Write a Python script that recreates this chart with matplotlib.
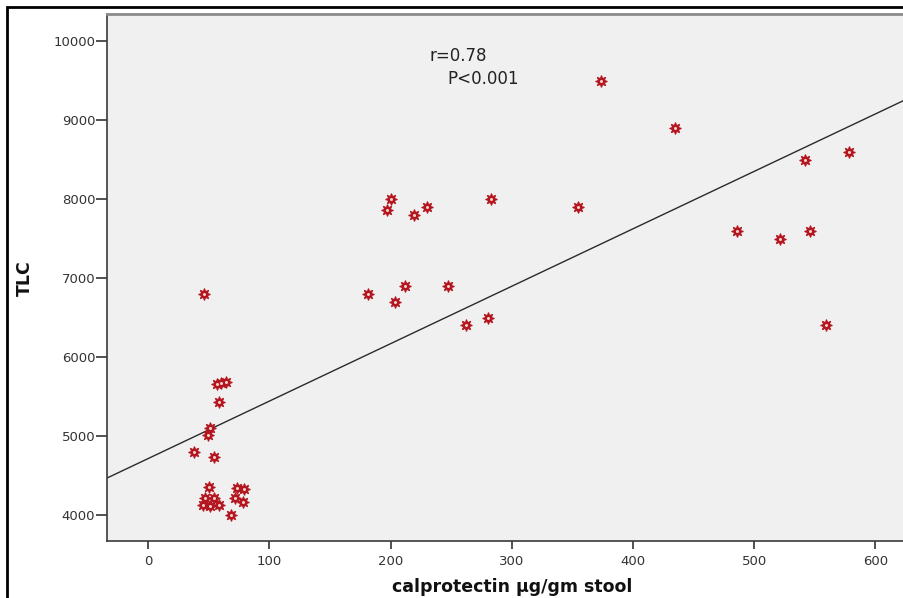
import numpy as np
import matplotlib.pyplot as plt
from matplotlib.patches import Rectangle

# calprotectin (ug/gm stool) vs TLC
calpro = [374, 435, 578, 542, 486, 521, 546, 559, 355, 283,
          200, 197, 219, 230, 247, 212, 181, 204, 262, 280,
          46, 57, 60, 64, 58, 51, 49, 38, 54, 50,
          73, 79, 47, 54, 72, 45, 51, 58, 78, 68]
tlc = [9500, 8900, 8600, 8500, 7600, 7500, 7600, 6400, 7900, 8000,
       8000, 7860, 7800, 7900, 6900, 6900, 6800, 6700, 6400, 6500,
       6800, 5660, 5670, 5680, 5430, 5100, 5010, 4800, 4730, 4350,
       4340, 4330, 4215, 4215, 4215, 4125, 4115, 4125, 4165, 4000]

# fit line as drawn
fit_intercept = 4715
fit_slope = 7.27

xticks = [0, 100, 200, 300, 400, 500, 600]
yticks = [4000, 5000, 6000, 7000, 8000, 9000, 10000]
XLIM = (-34, 650)
YLIM = (3671, 10342)

W, H = 904, 598
fig = plt.figure(figsize=(W / 100, H / 100), dpi=100)
left, bottom, top = 107 / W, (H - 541) / H, (H - 14) / H
width = (XLIM[1] - XLIM[0]) * 1.212 / W
ax = fig.add_axes([left, bottom, width, top - bottom])
ax.set_facecolor('#f0f0f0')

xs = np.array(XLIM)
ax.plot(xs, fit_intercept + fit_slope * xs, color='#2a2a2a', lw=1.0, zorder=2)

ax.plot(calpro, tlc, ls='none', marker=(8, 1, 0), ms=8.5,
        mfc='#b3161e', mec='#b3161e', mew=0.8, zorder=3)
ax.plot(calpro, tlc, ls='none', marker='o', ms=2.2,
        mfc='#f3d0d0', mec='none', zorder=4)

ax.set_xlim(*XLIM)
ax.set_ylim(*YLIM)
ax.set_xticks(xticks)
ax.set_yticks(yticks)
ax.tick_params(axis='y', length=8, width=1.2, color='#333333', pad=0.5,
               labelsize=9.5, labelcolor='#333333')
ax.tick_params(axis='x', length=6, width=1.2, color='#333333', pad=4,
               labelsize=9.5, labelcolor='#333333')

ax.spines['right'].set_visible(False)
ax.spines['top'].set_color('#8a8a8a')
ax.spines['top'].set_linewidth(2)
for s in ('left', 'bottom'):
    ax.spines[s].set_color('#3a3a3a')
    ax.spines[s].set_linewidth(1.2)

ax.text(232, 9747, 'r=0.78', fontsize=12, color='#222222', va='baseline')
ax.text(247, 9456, 'P<0.001', fontsize=12, color='#222222', va='baseline')

fig.text(512 / W, 1 - 592 / H, 'calprotectin \u00b5g/gm stool', fontsize=12.5,
         fontweight='bold', ha='center', va='baseline', color='#111111')
fig.text(25 / W, 1 - 278 / H, 'TLC', fontsize=12.5, fontweight='bold',
         rotation=90, ha='center', va='center', color='#111111')

# outer frame
fig.patches.append(Rectangle((7 / W, -0.5), 2, 1 - 7 / H + 0.5, fill=False,
                             lw=2, ec='black', transform=fig.transFigure,
                             figure=fig))

fig.savefig('out.png', dpi=100)
